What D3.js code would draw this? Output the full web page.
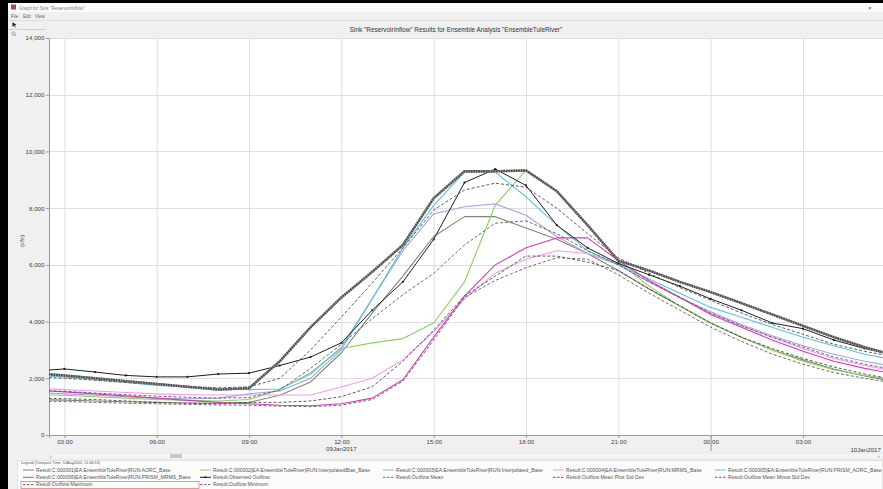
<!DOCTYPE html>
<html><head><meta charset="utf-8">
<script src="https://cdn.jsdelivr.net/npm/d3@7"></script>
<style>
body{margin:0;background:#f0f0f0;overflow:hidden;}
svg{display:block;font-family:"Liberation Sans",Arial,sans-serif;}
</style></head><body>
<svg id="c" width="883" height="489"></svg>
<script>
// ---------- DATA ----------
const firstHour = "2017-01-09T02:00:00Z";
const lastHour  = "2017-01-10T06:00:00Z";
const yTicks = [0,2000,4000,6000,8000,10000,12000,14000];
const chartTitle = 'Sink "ReservoirInflow" Results for Ensemble Analysis "EnsembleTuleRiver"';
const yLabel = "(cfs)";
const dayLabels = ["09Jan2017","10Jan2017"];
const menuItems = ["File","Edit","View"];

const seriesNames = [
  "Result:C:000001|EA:EnsembleTuleRiver|RUN:AORC_Base",
  "Result:C:000002|EA:EnsembleTuleRiver|RUN:InterpolatedBias_Base",
  "Result:C:000003|EA:EnsembleTuleRiver|RUN:Interpolated_Base",
  "Result:C:000004|EA:EnsembleTuleRiver|RUN:MRMS_Base",
  "Result:C:000005|EA:EnsembleTuleRiver|RUN:PRISM_AORC_Base",
  "Result:C:000006|EA:EnsembleTuleRiver|RUN:PRISM_MRMS_Base",
  "Result:Observed Outflow",
  "Result:Outflow Mean",
  "Result:Outflow Mean Plus Std Dev",
  "Result:Outflow Mean Minus Std Dev",
  "Result:Outflow Maximum",
  "Result:Outflow Minimum"
];
// hourly values 09Jan 02:00 ... 10Jan 06:00
const aorc        = [1250,1230,1200,1170,1150,1130,1120,1150,1400,1870,2900,4300,5600,7000,7700,7700,7300,6900,6400,5800,5150,4550,3950,3450,3000,2650,2330,2080,1880];
const interpBias  = [1420,1400,1350,1300,1250,1220,1200,1250,1600,2200,3050,3250,3400,3950,5400,8100,9340,8600,7400,6100,5250,4550,3950,3450,3000,2600,2300,2100,1950];
const interp      = [1500,1450,1400,1350,1300,1280,1300,1450,1550,2000,3000,4800,6500,7800,8050,8150,7750,7000,6400,6000,5400,4850,4350,3900,3500,3150,2850,2600,2400];
const mrms        = [1650,1600,1550,1500,1450,1420,1410,1410,1410,1410,1690,2000,2650,3650,4800,5700,6200,6500,6400,6050,5400,4850,4300,3850,3450,3050,2700,2450,2250];
const prismAorc   = [2100,2050,1950,1850,1750,1700,1650,1600,1620,2150,3100,4800,6600,8100,9270,9270,8400,7400,6500,6000,5500,5000,4500,4150,3800,3450,3150,2850,2650];
const prismMrms   = [1580,1520,1450,1380,1300,1220,1150,1100,1050,1030,1100,1300,1950,3450,4900,6000,6600,6950,6950,6150,5450,4850,4250,3800,3350,2950,2600,2350,2150];
const observed    = [2250,2330,2220,2100,2050,2050,2150,2180,2450,2750,3250,4400,5400,6900,8900,9380,8800,7400,6600,6050,5650,5250,4800,4400,3950,3750,3350,3050,2800];
const meanQ       = [1580,1540,1480,1420,1370,1330,1300,1320,1590,2350,3200,4100,4950,5700,6700,7470,7550,7100,6500,6000,5400,4850,4300,3850,3450,3100,2750,2500,2300];
const meanPlus    = [2050,2000,1930,1850,1780,1720,1660,1700,2000,3000,4160,5360,6600,7930,8640,8880,8740,8000,7100,6250,5700,5200,4750,4300,3900,3550,3200,2950,2750];
const meanMinus   = [1300,1280,1250,1200,1150,1120,1100,1150,1150,1200,1350,1700,2600,3700,4900,5600,6310,6310,6100,5800,5150,4550,3950,3450,3050,2700,2400,2150,1950];
const maxQ        = [2180,2100,2000,1900,1800,1700,1600,1650,2600,3800,4850,5750,6700,8350,9300,9300,9330,8600,7400,6150,5800,5400,5040,4650,4250,3850,3450,3100,2800];
const minQ        = [1200,1180,1150,1120,1100,1080,1060,1050,1020,1000,1050,1250,1900,3350,4850,5450,5900,6250,6200,5650,5000,4400,3800,3300,2850,2500,2200,2000,1830];

const seriesValues = [aorc, interpBias, interp, mrms, prismAorc, prismMrms, observed, meanQ, meanPlus, meanMinus, maxQ, minQ];

// ---------- STYLES ----------
const styles = [
  {c:"#7d8876", w:1.1, d:null},
  {c:"#86d45e", w:1.1, d:null},
  {c:"#aaa3df", w:1.1, d:null},
  {c:"#ee9cee", w:1.1, d:null},
  {c:"#5cc4dc", w:1.1, d:null},
  {c:"#d53cb8", w:1.1, d:null},
  {c:"#1e1e1e", w:1.0, d:null, marker:true},
  {c:"#5a5a5a", w:0.9, d:"3,2"},
  {c:"#4a4a4a", w:0.9, d:"3,2"},
  {c:"#4a4a4a", w:0.9, d:"3,2"},
  {c:"#4d4d4d", w:2.4, d:"1.6,0.9", thick:true},
  {c:"#5a5a5a", w:0.9, d:"3,2"}
];

const svg = d3.select("#c");
const W = 883, H = 489;
const plot = {l:49, t:38, r:883, b:435};

// background / window chrome
svg.append("rect").attr("width",W).attr("height",H).attr("fill","#f0f0f0");
svg.append("rect").attr("x",0).attr("y",0).attr("width",W).attr("height",3).attr("fill","#000");
svg.append("rect").attr("x",0).attr("y",0).attr("width",8).attr("height",H).attr("fill","#000");
svg.append("rect").attr("x",8).attr("y",3).attr("width",W-8).attr("height",9).attr("fill","#fafafa");
svg.append("rect").attr("x",11).attr("y",4.5).attr("width",5).attr("height",5).attr("fill","#5a5ab4");
svg.append("rect").attr("x",12).attr("y",5.5).attr("width",3).attr("height",3).attr("fill","#d04040");
svg.append("text").attr("x",19).attr("y",9.6).attr("font-size",4.6).attr("fill","#888").text("Graph for Sink \"ReservoirInflow\"");
svg.append("text").attr("x",868).attr("y",10).attr("font-size",6).attr("fill","#555").text("\u00d7");
menuItems.forEach((m,i)=>{
  svg.append("text").attr("x",11+i*12).attr("y",17.5).attr("font-size",4.6).attr("fill","#666").text(m);
});
svg.append("line").attr("x1",8).attr("x2",W).attr("y1",20.5).attr("y2",20.5).attr("stroke","#dcdcdc");
svg.append("path").attr("d","M12.5,22 L12.5,27 L14,25.6 L15.2,27.6 L15.8,27.2 L14.7,25.3 L16.5,25.1 Z").attr("fill","#222");
svg.append("line").attr("x1",8).attr("x2",46).attr("y1",29.5).attr("y2",29.5).attr("stroke","#cfcfcf");
svg.append("circle").attr("cx",13.5).attr("cy",33.5).attr("r",1.6).attr("fill","none").attr("stroke","#777").attr("stroke-width",0.7);
svg.append("line").attr("x1",14.7).attr("y1",34.7).attr("x2",16.3).attr("y2",36.3).attr("stroke","#777").attr("stroke-width",0.8);

// title
svg.append("text").attr("x",456).attr("y",32).attr("text-anchor","middle")
  .attr("font-size",6.4).attr("fill","#333").text(chartTitle);

// plot area
svg.append("rect").attr("x",plot.l).attr("y",plot.t).attr("width",plot.r-plot.l).attr("height",plot.b-plot.t).attr("fill","#fff");

const times = d3.utcHours(new Date(firstHour), d3.utcHour.offset(new Date(lastHour),1));
const x = d3.scaleUtc()
  .domain([new Date("2017-01-09T02:30:00Z"), new Date("2017-01-10T05:36:00Z")])
  .range([plot.l, plot.r]);
const y = d3.scaleLinear().domain([0,14000]).range([plot.b, plot.t]);

const xTicks = x.ticks(d3.utcHour.every(3));

// grid
const grid = svg.append("g");
grid.selectAll(".v").data(xTicks).join("line")
  .attr("x1",d=>x(d)+0.5).attr("x2",d=>x(d)+0.5).attr("y1",plot.t).attr("y2",plot.b)
  .attr("stroke","#dedede").attr("stroke-width",1);
grid.selectAll(".h").data(yTicks.filter(v=>v>0)).join("line")
  .attr("x1",plot.l).attr("x2",plot.r).attr("y1",d=>Math.round(y(d))+0.5).attr("y2",d=>Math.round(y(d))+0.5)
  .attr("stroke","#dedede").attr("stroke-width",1);

// axes
const yAxis = svg.append("g").attr("transform",`translate(${plot.l},0)`)
  .call(d3.axisLeft(y).tickValues(yTicks).tickFormat(d3.format(",")).tickSize(3).tickPadding(1.5));
const xAxis = svg.append("g").attr("transform",`translate(0,${plot.b})`)
  .call(d3.axisBottom(x).tickValues(xTicks).tickFormat(d3.utcFormat("%H:%M")).tickSize(3).tickPadding(2));
[yAxis,xAxis].forEach(g=>{
  g.selectAll("path").attr("stroke","#9a9a9a");
  g.selectAll("line").attr("stroke","#9a9a9a");
  g.selectAll("text").attr("fill","#444").attr("font-size",6.2).attr("font-family","Liberation Sans, Arial, sans-serif");
});
// day boundary tick
const dayBreak = new Date("2017-01-10T00:00:00Z");
svg.append("line").attr("x1",x(dayBreak)+0.5).attr("x2",x(dayBreak)+0.5).attr("y1",plot.b).attr("y2",plot.b+16)
  .attr("stroke","#9a9a9a");
svg.append("text").attr("x",x(new Date("2017-01-09T12:00:00Z"))).attr("y",451).attr("text-anchor","middle")
  .attr("font-size",6.2).attr("fill","#444").text(dayLabels[0]);
svg.append("text").attr("x",881).attr("y",452).attr("text-anchor","end")
  .attr("font-size",6.2).attr("fill","#444").text(dayLabels[1]);

// y label
svg.append("text").attr("transform","translate(24,241) rotate(-90)").attr("text-anchor","middle")
  .attr("font-size",6.2).attr("fill","#555").text(yLabel);

// lines
svg.append("clipPath").attr("id","pc").append("rect")
  .attr("x",plot.l).attr("y",plot.t-3).attr("width",plot.r-plot.l).attr("height",plot.b-plot.t+3);
const lg = svg.append("g").attr("clip-path","url(#pc)");
const line = d3.line().x((d,i)=>x(times[i])).y(d=>y(d));
seriesValues.forEach((vals,k)=>{
  const s = styles[k];
  if(s.thick){
    lg.append("path").attr("d",line(vals)).attr("fill","none").attr("stroke","#9a9a9a").attr("stroke-width",s.w);
  }
  lg.append("path").attr("d",line(vals)).attr("fill","none").attr("stroke",s.c)
    .attr("stroke-width",s.w).attr("stroke-dasharray",s.d).attr("stroke-linejoin","round");
  if(s.marker){
    lg.selectAll(null).data(vals).join("circle").attr("cx",(d,i)=>x(times[i])).attr("cy",d=>y(d))
      .attr("r",1.1).attr("fill",s.c);
  }
});

// scroll bar
svg.append("rect").attr("x",plot.l).attr("y",453).attr("width",plot.r-plot.l).attr("height",6).attr("fill","#f4f4f4").attr("stroke","#e0e0e0").attr("stroke-width",0.5);
svg.append("rect").attr("x",170).attr("y",454).attr("width",12).attr("height",4).attr("fill","#c9c9c9");
svg.append("text").attr("x",50).attr("y",458.3).attr("font-size",5).attr("fill","#666").text("\u2039");
svg.append("text").attr("x",878).attr("y",458.3).attr("font-size",5).attr("fill","#666").text("\u203a");

// legend
const lgd = svg.append("g");
lgd.append("rect").attr("x",17.5).attr("y",460.5).attr("width",865).attr("height",30).attr("fill","#fcfcfc").attr("stroke","#d6d6d6").attr("stroke-width",0.6);
lgd.append("text").attr("x",21).attr("y",464.3).attr("font-size",3.8).attr("fill","#555").text("Legend (Compute Time: 10Aug2020, 11:46:14)");
const colX = [23,200,383,553,715];
const rowY = [470,477.3,484.6];
seriesNames.forEach((name,k)=>{
  const col = k%5, row = Math.floor(k/5);
  const lx = colX[col], ly = rowY[row];
  const s = styles[k];
  const g = lgd.append("g");
  g.append("line").attr("x1",lx).attr("x2",lx+11).attr("y1",ly).attr("y2",ly)
    .attr("stroke", s.thick ? "#555" : s.c).attr("stroke-width", s.d ? 0.9 : 1)
    .attr("stroke-dasharray", s.d ? "2.5,1.5" : null);
  if(s.marker) g.append("circle").attr("cx",lx+5.5).attr("cy",ly).attr("r",1).attr("fill",s.c);
  g.append("text").attr("x",lx+13).attr("y",ly+1.8).attr("font-size",5.1).attr("fill","#555").text(name);
});
lgd.append("rect").attr("x",21).attr("y",481.5).attr("width",178).attr("height",7).attr("fill","none").attr("stroke","#e08080").attr("stroke-width",0.8);
</script>
</body></html>
